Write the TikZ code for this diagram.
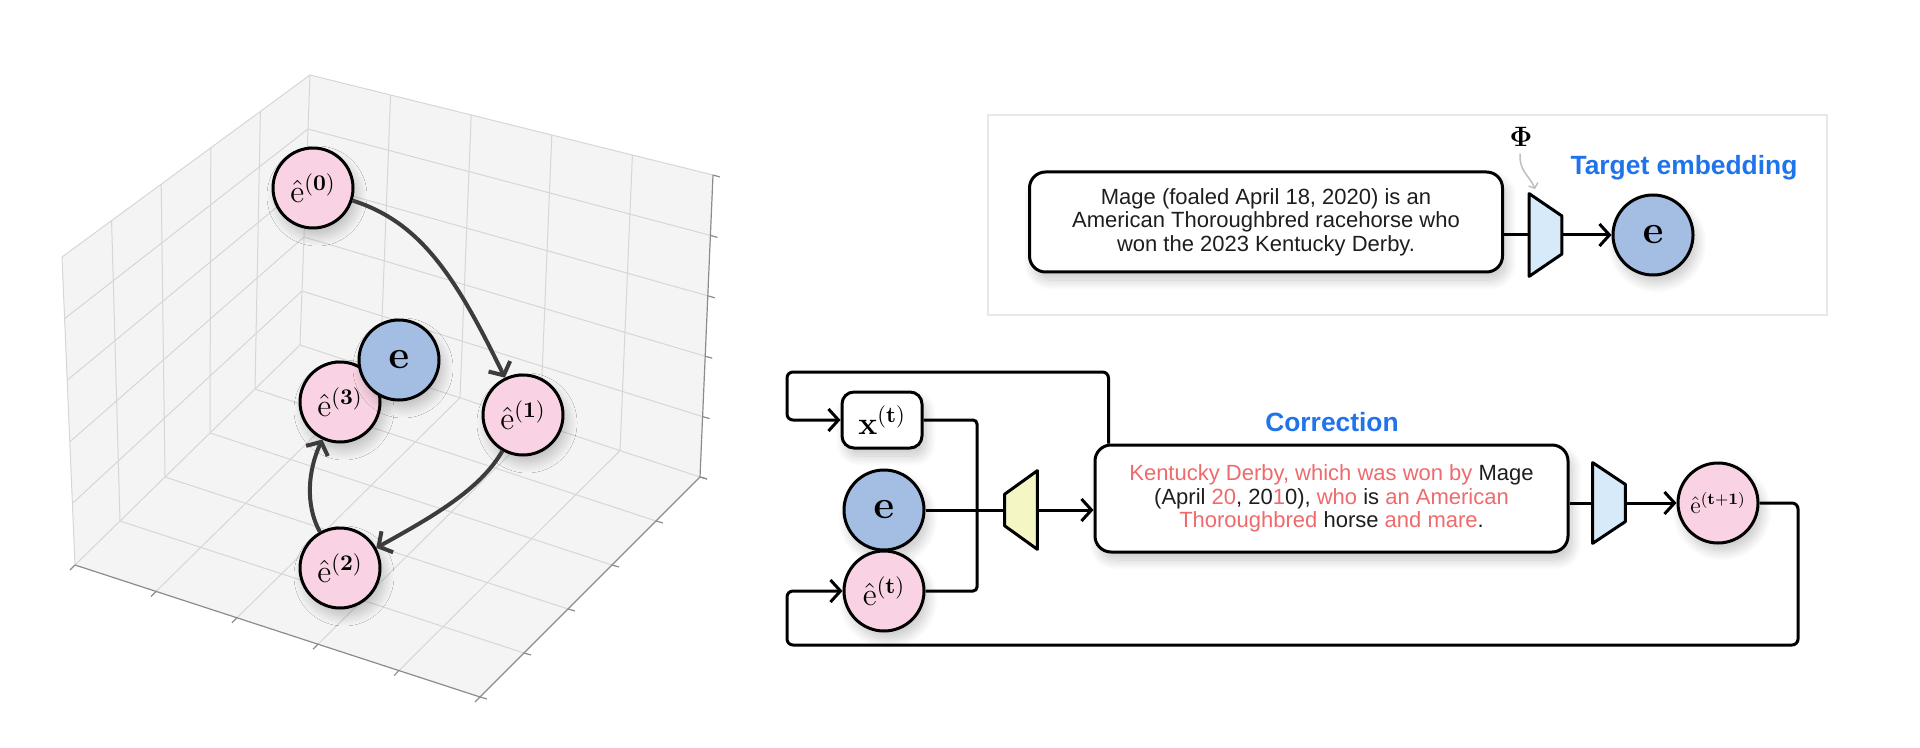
\RequirePackage{fix-cm}
\documentclass[tikz,border=0pt]{standalone}
\usepackage{amsmath, amssymb}
\usepackage[no-math]{fontspec}
\setsansfont{Liberation Sans}
\usetikzlibrary{arrows.meta}
\usetikzlibrary{calc}
\usetikzlibrary{shadows.blur}

\definecolor{pinkFill}{HTML}{F9D3E3}
\definecolor{blueFill}{HTML}{A3BDE3}
\definecolor{encFill}{HTML}{D7EAF9}
\definecolor{decFill}{HTML}{F4F7C4}
\definecolor{corrRed}{HTML}{EF6A6C}
\definecolor{titleBlue}{HTML}{1F74EA}
\definecolor{arrowGray}{HTML}{3C3C3C}
\definecolor{paneGray}{HTML}{F4F4F4}
\definecolor{gridGray}{HTML}{D6D6D6}
\definecolor{textBlack}{HTML}{1E1E1E}

\begin{document}
\begin{tikzpicture}[x = 0.5pt, y = -0.5pt, font=\sffamily]
	\tikzstyle{paneStyle} = [fill = paneGray]
	\tikzstyle{gridStyle} = [draw = gridGray, line width = 0.5pt]
	\tikzstyle{axisStyle} = [draw = black!45, line width = 0.6pt]
	\tikzstyle{shadowStyle} = [blur shadow = {shadow xshift = 2pt, shadow yshift = -4pt, shadow blur radius = 5pt, shadow blur steps = 12, shadow opacity = 22}]
	\tikzstyle{pinkStyle} = [shape = circle, minimum size = 40pt, inner sep = 0pt, draw, line width = 1.5pt, fill = pinkFill, shadowStyle, font = \fontsize{16}{16}\selectfont]
	\tikzstyle{blueStyle} = [shape = circle, minimum size = 40pt, inner sep = 0pt, draw, line width = 1.5pt, fill = blueFill, shadowStyle, font = \fontsize{20}{20}\selectfont]
	\tikzstyle{textBox} = [shape = rectangle, rounded corners = 8pt, draw, line width = 1.5pt, fill = white, shadowStyle, minimum width = 236.5pt, align = center, text = textBlack, font = \sffamily\fontsize{11}{11.75}\selectfont]
	\tikzstyle{xBox} = [shape = rectangle, rounded corners = 6pt, draw, line width = 1.5pt, fill = white, shadowStyle, minimum width = 40pt, minimum height = 28pt, font = \fontsize{16}{16}\selectfont]
	\tikzstyle{trapBox} = [shape = rectangle, minimum width = 16pt, inner sep = 0pt]
	\tikzstyle{trapStyle} = [draw, line width = 1.5pt, line join = round]
	\tikzstyle{titleStyle} = [text = titleBlue, font = \sffamily\bfseries\fontsize{13.2}{14}\selectfont]
	\tikzstyle{pathArrow} = [draw = arrowGray, line width = 2pt, -{Straight Barb[length = 5pt, width = 12pt]}]
	\tikzstyle{lineStyle} = [draw, line width = 1.5pt]
	\tikzstyle{arrowStyle} = [draw, line width = 1.5pt, -{Straight Barb[length = 5pt, width = 11pt]}]

	\useasboundingbox (0,0) rectangle (1920,748);

	\coordinate (L) at (75,565);
	\coordinate (F) at (480,697);
	\coordinate (R) at (700,477);
	\coordinate (B) at (300,345);
	\coordinate (LT) at (62,257);
	\coordinate (BT) at (310,75);
	\coordinate (RT) at (713,175);
	\fill[paneStyle] (L) -- (B) -- (BT) -- (LT) -- cycle;
	\fill[paneStyle] (B) -- (R) -- (RT) -- (BT) -- cycle;
	\fill[paneStyle] (L) -- (F) -- (R) -- (B) -- cycle;
	\foreach \f in {0.2,0.4,0.6,0.8} {
		\draw[gridStyle] ($(L)!\f!(B)$) -- ($(LT)!\f!(BT)$);
		\draw[gridStyle] ($(L)!\f!(LT)$) -- ($(B)!\f!(BT)$);
		\draw[gridStyle] ($(B)!\f!(R)$) -- ($(BT)!\f!(RT)$);
		\draw[gridStyle] ($(B)!\f!(BT)$) -- ($(R)!\f!(RT)$);
		\draw[gridStyle] ($(L)!\f!(F)$) -- ($(B)!\f!(R)$);
		\draw[gridStyle] ($(F)!\f!(R)$) -- ($(L)!\f!(B)$);
	}
	\draw[gridStyle] (LT) -- (BT) -- (RT);
	\draw[gridStyle] (L) -- (B) -- (R);
	\draw[gridStyle] (LT) -- (L);
	\draw[gridStyle] (B) -- (BT);
	\draw[axisStyle] (L) -- (F) -- (R) -- (RT);
	\foreach \f in {0,0.2,0.4,0.6,0.8,1} {
		\draw[axisStyle] ($(L)!\f!(F)$) -- +(-5,5);
		\draw[axisStyle] ($(F)!\f!(R)$) -- +(7,2);
		\draw[axisStyle] ($(R)!\f!(RT)$) -- +(7,2);
	}

	\node[pinkStyle] (e0) at (313,188) {$\hat{\mathrm{e}}^{(\mathbf{0})}$};
	\node[pinkStyle] (e3) at (340,402) {$\hat{\mathrm{e}}^{(\mathbf{3})}$};
	\node[blueStyle] (e) at (399,360) {$\mathbf{e}$};
	\node[pinkStyle] (e1) at (523,415) {$\hat{\mathrm{e}}^{(\mathbf{1})}$};
	\node[pinkStyle] (e2) at (340,568) {$\hat{\mathrm{e}}^{(\mathbf{2})}$};
	\draw[pathArrow] (e0) .. controls (420,222) and (455,275) .. (e1);
	\draw[pathArrow] (e1) .. controls (480,490) and (432,517) .. (e2);
	\draw[pathArrow] (e2) .. controls (305,505) and (308,470) .. (e3);

	\draw[draw = black!9, line width = 1pt] (988,115) rectangle (1827,315);
	\node[textBox, minimum height = 50pt] (src) at (1266,222) {Mage (foaled April 18, 2020) is an\\American Thoroughbred racehorse who\\won the 2023 Kentucky Derby.};
	\node[trapBox, minimum height = 41pt] (enc1) at (1545.5,235) {};
	\node[blueStyle] (etgt) at (1653,235) {$\mathbf{e}$};
	\node[titleStyle] (tgtTitle) at (1684,168) {Target embedding};
	\node[font = \fontsize{14}{14}\selectfont] (phi) at (1521,137) {$\boldsymbol{\Phi}$};
	\coordinate (encTop) at (1535,189);
	\draw[draw = black!25, line width = 0.75pt, -{Straight Barb[length = 2pt, width = 5pt]}] (phi) .. controls (1519,172) and (1530,176) .. (encTop);
	\draw[lineStyle] (src.east |- enc1.west) -- (enc1.west);
	\draw[arrowStyle] (enc1.east) -- (etgt);

	\node[xBox] (xt) at (882,420) {$\mathbf{x}^{(\mathbf{t})}$};
	\node[blueStyle] (et) at (884,510) {$\mathbf{e}$};
	\node[pinkStyle] (eht) at (884,591) {$\hat{\mathrm{e}}^{(\mathbf{t})}$};
	\node[trapBox, minimum height = 39pt] (dec) at (1021,510) {};
	\node[textBox, minimum height = 53.5pt] (corr) at (1331.5,498.5) {\textcolor{corrRed}{Kentucky Derby, which was won by} Mage\\(April \textcolor{corrRed}{20}, 20\textcolor{corrRed}{1}0), \textcolor{corrRed}{who} is \textcolor{corrRed}{an American}\\\textcolor{corrRed}{Thoroughbred} horse \textcolor{corrRed}{and mare}.};
	\node[titleStyle] (corrTitle) at (1332,422) {Correction};
	\node[trapBox, minimum height = 40pt] (enc2) at (1609,503) {};
	\node[pinkStyle, font = \fontsize{12}{12}\selectfont] (enext) at (1718,503) {$\hat{\mathrm{e}}^{(\mathbf{t+1})}$};
	\coordinate (busBot) at (977,591);
	\coordinate (corrOut) at ($(corr.north west)+(15,0)$);
	\coordinate (loopTL) at (787,372);
	\coordinate (loopR) at (1798,645);
	\coordinate (loopL) at (787,645);
	\draw[lineStyle, rounded corners = 2pt] (xt.east) -| (busBot) -- (eht.east);
	\draw[lineStyle] (et) -- (dec.west);
	\draw[arrowStyle] (dec.east) -- (dec.east -| corr.west);
	\draw[lineStyle] (corr.east |- enc2.west) -- (enc2.west);
	\draw[arrowStyle] (enc2.east) -- (enext);
	\draw[arrowStyle, rounded corners = 3pt] (corrOut) |- (loopTL) |- (xt.west);
	\draw[arrowStyle, rounded corners = 3pt] (enext.east) -| (loopR) -- (loopL) |- (eht.west);
	\foreach \n in {enc1, enc2} {
		\draw[trapStyle, fill = encFill] (\n.north west) -- ($(\n.north east)!0.27!(\n.south east)$) -- ($(\n.south east)!0.27!(\n.north east)$) -- (\n.south west) -- cycle;
	}
	\draw[trapStyle, fill = decFill] (dec.north east) -- (dec.south east) -- ($(dec.south west)!0.3!(dec.north west)$) -- ($(dec.north west)!0.3!(dec.south west)$) -- cycle;
\end{tikzpicture}
\end{document}
